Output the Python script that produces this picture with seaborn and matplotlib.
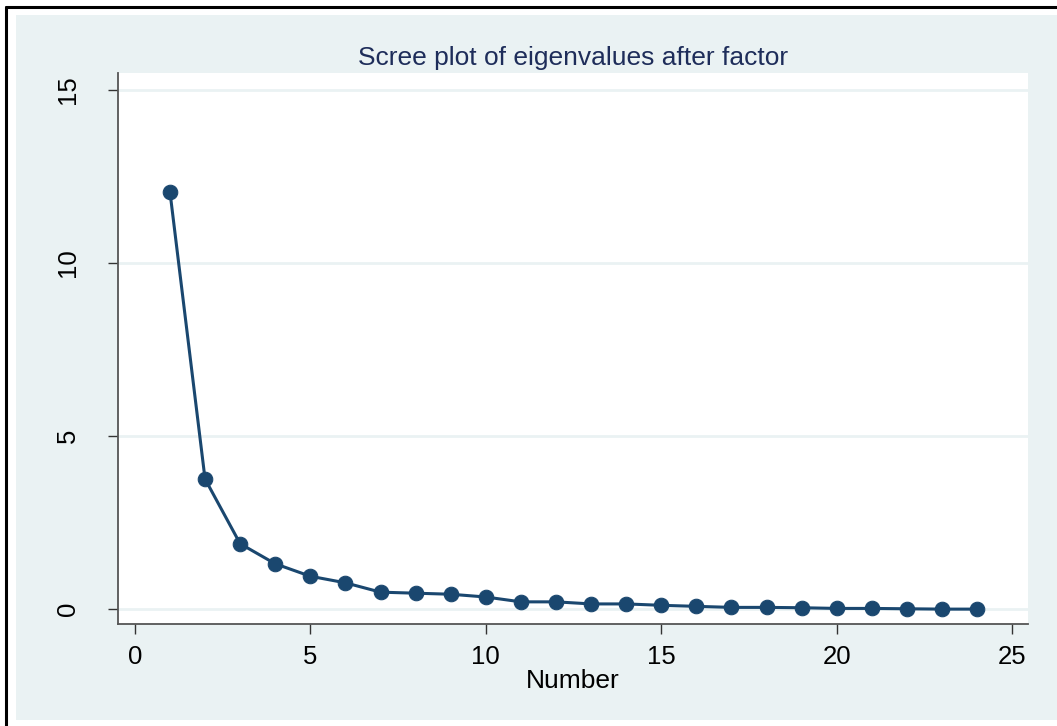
import numpy as np
import pandas as pd
import seaborn as sns
import matplotlib.pyplot as plt
from matplotlib.patches import Rectangle
from matplotlib.lines import Line2D

# 数据
number = list(range(1, 25))
eigenvalues = [12.06, 3.76, 1.89, 1.31, 0.95, 0.76, 0.49, 0.46, 0.43, 0.35,
               0.21, 0.21, 0.15, 0.15, 0.11, 0.08, 0.05, 0.05, 0.04, 0.02,
               0.02, 0.01, 0.00, 0.00]
x_ticks = [0, 5, 10, 15, 20, 25]
y_ticks = [0, 5, 10, 15]

df = pd.DataFrame({'Number': number, 'Eigenvalues': eigenvalues})

sns.set_theme(style="white")
plt.rcParams['font.family'] = ['Liberation Sans', 'DejaVu Sans']

bg = '#eaf2f3'
navy = '#1a476f'

fig = plt.figure(figsize=(10.57, 7.26), dpi=100, facecolor='white')

# 外框背景
fig.add_artist(Rectangle((16 / 1057, 6 / 726), 1041 / 1057, 705 / 726,
                         transform=fig.transFigure, facecolor=bg, edgecolor='none', zorder=0))
fig.add_artist(Line2D([6 / 1057, 1], [1 - 7 / 726, 1 - 7 / 726], transform=fig.transFigure,
                      color='black', lw=2.2))
fig.add_artist(Line2D([6 / 1057, 6 / 1057], [0, 1 - 7 / 726], transform=fig.transFigure,
                      color='black', lw=2.2))

ax = fig.add_axes([118 / 1057, 102 / 726, 910 / 1057, 551 / 726])
ax.set_facecolor('white')

for yv in y_ticks:
    ax.axhline(yv, color=bg, lw=2, zorder=1)

sns.lineplot(data=df, x='Number', y='Eigenvalues', ax=ax, color=navy, lw=2.2,
             marker='o', markersize=10.5, markeredgecolor=navy, zorder=3)

ax.set_xlim(-0.48, 25.45)
ax.set_ylim(-0.43, 15.49)
ax.set_xticks(x_ticks)
ax.set_yticks(y_ticks)
ax.tick_params(axis='both', direction='out', length=7.2, width=1, color='#333333',
               labelsize=18.5, labelcolor='black', bottom=True, left=True)
ax.tick_params(axis='x', pad=8)
ax.tick_params(axis='y', pad=20)
for lab in ax.get_yticklabels():
    lab.set_rotation(90)
    lab.set_va('center')

for s in ['top', 'right']:
    ax.spines[s].set_visible(False)
for s in ['left', 'bottom']:
    ax.spines[s].set_color('#555555')
    ax.spines[s].set_linewidth(1.3)

ax.set_xlabel('Number', fontsize=19, color='black', labelpad=0)
ax.set_ylabel('')
ax.set_title('Scree plot of eigenvalues after factor', fontsize=19, color='#1e2d5a', pad=6)

fig.savefig('out.png', dpi=100, facecolor='white')
